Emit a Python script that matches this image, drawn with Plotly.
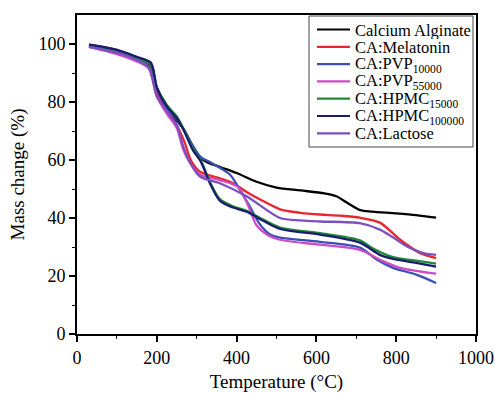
import plotly.graph_objects as go

# Calcium Alginate
t_ca = [30, 100, 150, 183, 200, 225, 250, 268, 285, 300, 312, 330, 360, 400, 450, 500, 560, 620, 650, 680, 710, 740, 800, 850, 900]
m_ca = [99.5, 97.5, 95, 92.5, 84, 77, 73.5, 70.5, 66, 62.5, 60.5, 59, 57.5, 55.5, 52.5, 50.5, 49.5, 48.5, 47.5, 45, 42.7, 42.2, 41.6, 41, 40.1]
# CA:Melatonin
t_mel = [30, 100, 150, 180, 200, 225, 250, 270, 285, 308, 350, 391, 425, 459, 509, 560, 609, 660, 709, 759, 810, 860, 900]
m_mel = [99, 97, 94.5, 92, 83, 77, 72, 66, 60, 56, 54, 52, 49, 46.4, 43, 41.8, 41.2, 40.8, 40.1, 38.4, 32.5, 27.9, 26.2]
# CA:PVP10000
t_p10 = [30, 100, 150, 185, 200, 225, 250, 270, 290, 310, 333, 383, 408, 433, 459, 484, 509, 609, 709, 752, 792, 850, 900]
m_p10 = [99.8, 98, 95.5, 93.5, 85, 78, 74, 70, 65, 61, 59.3, 55, 49.8, 44, 37.7, 34.3, 33.2, 31.8, 29.8, 25.6, 22.8, 20.5, 17.6]
# CA:PVP55000
t_p55 = [30, 100, 150, 180, 200, 225, 250, 266, 283, 308, 360, 405, 430, 450, 480, 509, 609, 709, 759, 810, 900]
m_p55 = [99, 96.5, 94, 91.5, 82, 76, 71, 63.7, 59, 55, 53, 50.5, 44, 37.5, 34, 32.5, 30.8, 29, 25.6, 22.8, 20.8]
# CA:HPMC15000
t_h15 = [30, 100, 150, 183, 200, 225, 250, 270, 290, 310, 333, 358, 391, 425, 459, 509, 609, 709, 742, 792, 850, 900]
m_h15 = [99.5, 97.5, 95, 93, 85, 79, 75, 70, 64, 60, 52.5, 46.5, 44, 42.5, 40, 36.7, 34.8, 32.3, 29.5, 26.5, 25.3, 24.3]
# CA:HPMC100000
t_h100 = [30, 100, 150, 185, 200, 225, 250, 270, 290, 310, 333, 358, 391, 425, 459, 509, 609, 709, 759, 792, 850, 900]
m_h100 = [99.8, 98, 95.5, 93.5, 85, 78.5, 74.5, 69.5, 63.5, 59.5, 52, 46, 43.6, 42.2, 39.6, 36.2, 34.3, 31.5, 27.3, 25.9, 24.5, 23.2]
# CA:Lactose
t_lac = [30, 100, 150, 180, 200, 225, 250, 268, 280, 308, 358, 425, 509, 560, 609, 709, 759, 790, 827, 868, 900]
m_lac = [99, 97, 94.5, 92, 82, 77, 72, 64, 60, 54.3, 52, 47.5, 40, 39.2, 38.8, 38.2, 36, 33.5, 30.2, 27.9, 27.3]

names = ["Calcium Alginate", "CA:Melatonin", "CA:PVP<sub>10000</sub>", "CA:PVP<sub>55000</sub>",
         "CA:HPMC<sub>15000</sub>", "CA:HPMC<sub>100000</sub>", "CA:Lactose"]
colors = ["#000000", "#e8262b", "#3a4fb4", "#cc4cc4", "#1f8a3a", "#1c1c6e", "#7a4fc0"]
xs = [t_ca, t_mel, t_p10, t_p55, t_h15, t_h100, t_lac]
ys = [m_ca, m_mel, m_p10, m_p55, m_h15, m_h100, m_lac]

W, H = 495, 393
L, R, T, B = 77, 19, 15, 59
pw, ph = W - L - R, H - T - B

def px_x(p):
    return (p - L) / pw

def px_y(p):
    return 1 - (p - T) / ph

fig = go.Figure()
for name, t, m, c in zip(names, xs, ys, colors):
    fig.add_trace(go.Scatter(x=t, y=m, name=name, mode="lines", showlegend=False,
                             line=dict(color=c, width=2.3, shape="spline", smoothing=0.8)))

font = "Liberation Serif, Times New Roman, serif"

# custom legend (compact rows like the reference)
shapes = [dict(type="rect", xref="paper", yref="paper",
               x0=px_x(309), x1=px_x(473), y0=px_y(147), y1=px_y(16),
               line=dict(color="#444444", width=1), fillcolor="white", layer="above")]
annotations = []
for i, (name, c) in enumerate(zip(names, colors)):
    yc = 29.5 + 17.3 * i
    shapes.append(dict(type="line", xref="paper", yref="paper",
                       x0=px_x(317), x1=px_x(350), y0=px_y(yc), y1=px_y(yc),
                       line=dict(color=c, width=2.2), layer="above"))
    annotations.append(dict(xref="paper", yref="paper", x=px_x(354), y=px_y(yc + 0.5),
                            xanchor="left", yanchor="middle", showarrow=False,
                            height=17, borderpad=0, valign="middle",
                            text=name, font=dict(family=font, size=16.5, color="black")))

axis_common = dict(showline=True, linecolor="black", linewidth=1.8, mirror=True,
                   ticks="outside", ticklen=6, tickwidth=1.5, tickcolor="black",
                   showgrid=False, zeroline=False, automargin=False,
                   tickfont=dict(family=font, size=18, color="black"),
                   minor=dict(ticks="outside", ticklen=3, tickwidth=1.2, tickcolor="black"))

fig.update_layout(
    width=W, height=H,
    margin=dict(l=L, r=R, t=T, b=B),
    paper_bgcolor="white", plot_bgcolor="white",
    font=dict(family=font, color="black"),
    shapes=shapes, annotations=annotations,
)
fig.update_xaxes(range=[0, 1000], tickvals=[0, 200, 400, 600, 800, 1000],
                 title=dict(text="Temperature (°C)", font=dict(family=font, size=19), standoff=12),
                 minor_tickvals=[100, 300, 500, 700, 900], **axis_common)
fig.update_yaxes(range=[0, 110], tickvals=[0, 20, 40, 60, 80, 100],
                 title=dict(text="Mass change (%)", font=dict(family=font, size=19), standoff=9),
                 minor_tickvals=[10, 30, 50, 70, 90], **axis_common)

fig.write_html("out.html")
